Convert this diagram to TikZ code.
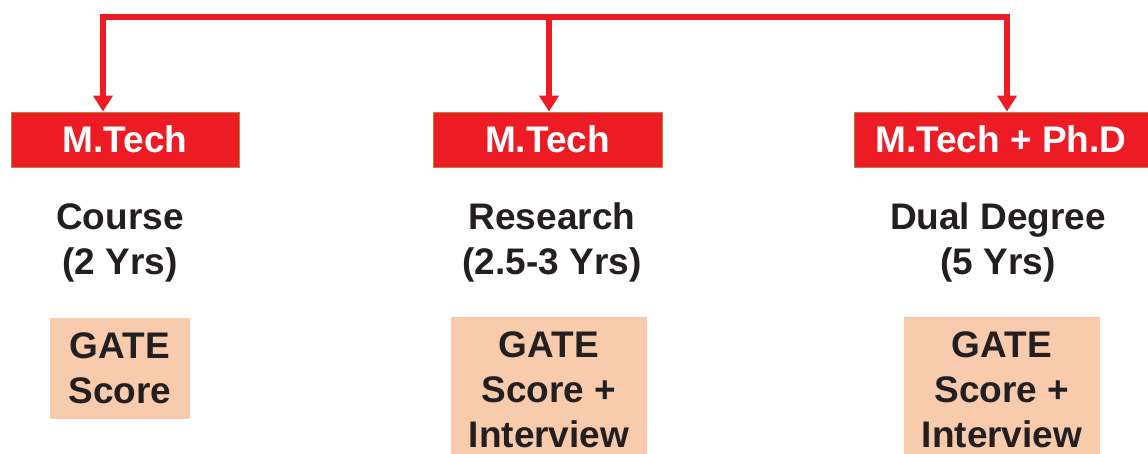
\documentclass[tikz,border=0pt]{standalone}
\usepackage{fontspec}
\setmainfont{Liberation Sans}
\usetikzlibrary{arrows.meta}
\definecolor{deepred}{RGB}{237,28,36}
\definecolor{peach}{RGB}{248,203,173}
\definecolor{ink}{RGB}{35,31,32}
\definecolor{rim}{RGB}{180,130,60}
\newcommand{\BigFont}{\fontsize{37}{45}\selectfont\bfseries}

\begin{document}
\begin{tikzpicture}[x=1pt,y=1pt,
  degree/.style={fill=deepred, draw=rim, line width=0.8pt, text=white,
    font=\BigFont, minimum height=55pt, inner sep=0pt},
  mode/.style={text=ink, font=\BigFont, align=center, inner sep=0pt},
  entry/.style={fill=peach, text=ink, font=\BigFont, align=center,
    minimum width=196pt, minimum height=146pt, inner sep=0pt},
  link/.style={draw=deepred, line width=6pt, line join=miter},
  tip/.style={-{Triangle[width=19pt,length=16pt]}}]

\useasboundingbox (0,0) rectangle (1148,454);

% top bar
\coordinate (top1) at (103,437);
\coordinate (top2) at (549,437);
\coordinate (top3) at (1007,437);

% degrees
\node[degree, minimum width=228pt] (deg1) at (125,314.5) {M.Tech};
\node[degree, minimum width=229pt] (deg2) at (547.5,314.5) {M.Tech};
\node[degree, minimum width=294pt] (deg3) at (1001,314.5) {M.Tech + Ph.D};

\draw[link, {Triangle[width=19pt,length=16pt]}-{Triangle[width=19pt,length=16pt]}]
  (top1 |- deg1.north) -- (top1) -- (top3) -- (top3 |- deg3.north);
\draw[link, tip] (top2) -- (top2 |- deg2.north);

% programme type
\node[mode] (mode1) at (120,211.5) {Course\\(2 Yrs)};
\node[mode] (mode2) at (552,211.5) {Research\\(2.5-3 Yrs)};
\node[mode] (mode3) at (998,211.5) {Dual Degree\\(5 Yrs)};

% admission
\node[entry, minimum width=140pt, minimum height=101pt] (adm1) at (120,85.5) {GATE\\Score};
\node[entry] (adm2) at (549,64) {GATE\\Score +\\Interview};
\node[entry] (adm3) at (1002,64) {GATE\\Score +\\Interview};
\end{tikzpicture}
\end{document}
